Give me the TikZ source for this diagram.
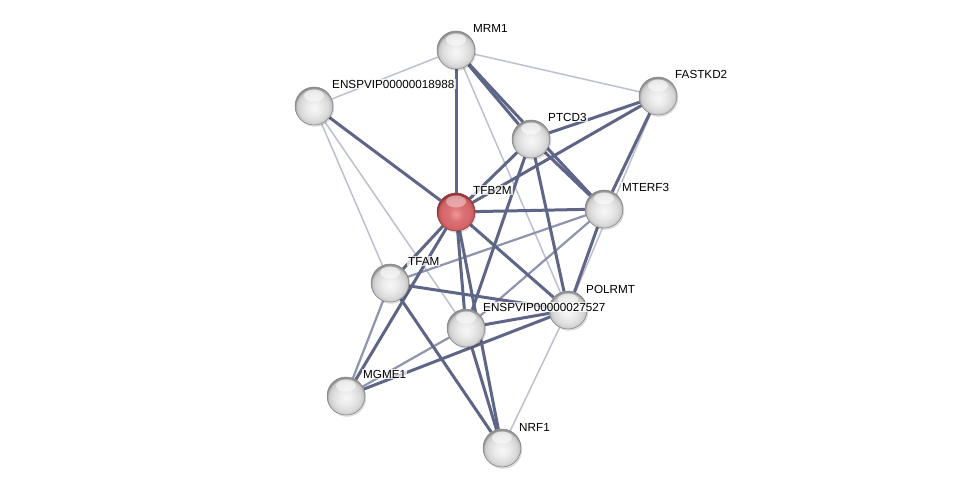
\documentclass[tikz,border=0pt]{standalone}
\usepackage{fontspec}
\setmainfont{Liberation Sans}
\usetikzlibrary{backgrounds,shadows}
\pgfdeclareradialshading{graysphere}{\pgfpoint{0bp}{-3bp}}{color(0bp)=(white!97!black); color(10bp)=(white!92!black); color(19bp)=(white!85!black); color(23bp)=(white!78!black); color(25bp)=(white!56!black); color(50bp)=(white!56!black)}
\definecolor{rbody}{RGB}{214,102,106}
\definecolor{rlight}{RGB}{238,152,154}
\definecolor{redge}{RGB}{146,52,56}
\pgfdeclareradialshading{redsphere}{\pgfpoint{0bp}{-3bp}}{color(0bp)=(rlight); color(10bp)=(rbody!80!rlight); color(19bp)=(rbody); color(23bp)=(rbody!90!black); color(25bp)=(redge); color(50bp)=(redge)}
\definecolor{edark}{RGB}{94,101,134}
\definecolor{emid}{RGB}{142,148,174}
\definecolor{elight}{RGB}{188,192,208}
\tikzset{
  ball/.style={circle, minimum size=38pt, inner sep=0pt, shading=graysphere, draw=white!52!black, line width=0.5pt,
     drop shadow={shadow xshift=1.2pt, shadow yshift=-1.8pt, opacity=0.14, fill=black},
     path picture={\fill[white, opacity=0.55] ([yshift=-8.5pt]path picture bounding box.north) ellipse (10pt and 6pt);}},
  redball/.style={ball, shading=redsphere, draw=redge,
     path picture={\fill[white, opacity=0.4] ([yshift=-8.5pt]path picture bounding box.north) ellipse (10pt and 6pt);}},
  lbl/.style={anchor=west, font=\fontsize{11.7}{13}\selectfont, fill=white, fill opacity=0.75, text opacity=1, inner sep=1pt},
  strong/.style={draw=edark, line width=3pt},
  medium/.style={draw=emid, line width=2.2pt},
  weak/.style={draw=elight, line width=1.5pt}
}
\begin{document}
\begin{tikzpicture}[x=1pt,y=-1pt]
\useasboundingbox (0,0) rectangle (976,494);
\node[ball] (mrm) at (456,50) {};
\node[ball] (e18) at (314,106) {};
\node[ball] (fas) at (658,96) {};
\node[ball] (ptc) at (531,139) {};
\node[redball] (tfb) at (456,212) {};
\node[ball] (mte) at (604,209) {};
\node[ball] (tfa) at (390,283) {};
\node[ball] (pol) at (568,310) {};
\node[ball] (e27) at (466,328) {};
\node[ball] (mgm) at (346,396) {};
\node[ball] (nrf) at (502,448) {};
\begin{scope}[on background layer]
\fill[white] (0,0) rectangle (976,494);
\draw[weak] (mrm) -- (e18);
\draw[weak] (mrm) -- (fas);
\draw[weak] (mrm) -- (pol);
\draw[weak] (e18) -- (tfa);
\draw[weak] (e18) -- (e27);
\draw[weak] (fas) -- (pol);
\draw[weak] (pol) -- (nrf);
\draw[medium] (mte) -- (tfa);
\draw[medium] (mte) -- (e27);
\draw[medium] (tfa) -- (mgm);
\draw[medium] (e27) -- (mgm);
\draw[strong] (mrm) -- (tfb);
\draw[strong] (mrm) -- (ptc);
\draw[strong] (mrm) -- (mte);
\draw[strong] (e18) -- (tfb);
\draw[strong] (fas) -- (ptc);
\draw[strong] (fas) -- (tfb);
\draw[strong] (fas) -- (mte);
\draw[strong] (ptc) -- (tfb);
\draw[strong] (ptc) -- (mte);
\draw[strong] (ptc) -- (pol);
\draw[strong] (ptc) -- (e27);
\draw[strong] (tfb) -- (mte);
\draw[strong] (tfb) -- (pol);
\draw[strong] (tfb) -- (tfa);
\draw[strong] (tfb) -- (e27);
\draw[strong] (tfb) -- (nrf);
\draw[strong] (tfb) -- (mgm);
\draw[strong] (mte) -- (pol);
\draw[strong] (tfa) -- (pol);
\draw[strong] (tfa) -- (nrf);
\draw[strong] (e27) -- (pol);
\draw[strong] (e27) -- (nrf);
\draw[strong] (pol) -- (mgm);
\end{scope}
\node[lbl] (lmrm) at (472,28) {MRM1};
\node[lbl] (le18) at (331,84) {ENSPVIP00000018988};
\node[lbl] (lfas) at (674,74) {FASTKD2};
\node[lbl] (lptc) at (547,117) {PTCD3};
\node[lbl] (ltfb) at (472,190) {TFB2M};
\node[lbl] (lmte) at (621,187) {MTERF3};
\node[lbl] (ltfa) at (407,261) {TFAM};
\node[lbl] (lpol) at (585,289) {POLRMT};
\node[lbl] (le27) at (482,307) {ENSPVIP00000027527};
\node[lbl] (lmgm) at (362,374) {MGME1};
\node[lbl] (lnrf) at (518,427) {NRF1};
\end{tikzpicture}
\end{document}
